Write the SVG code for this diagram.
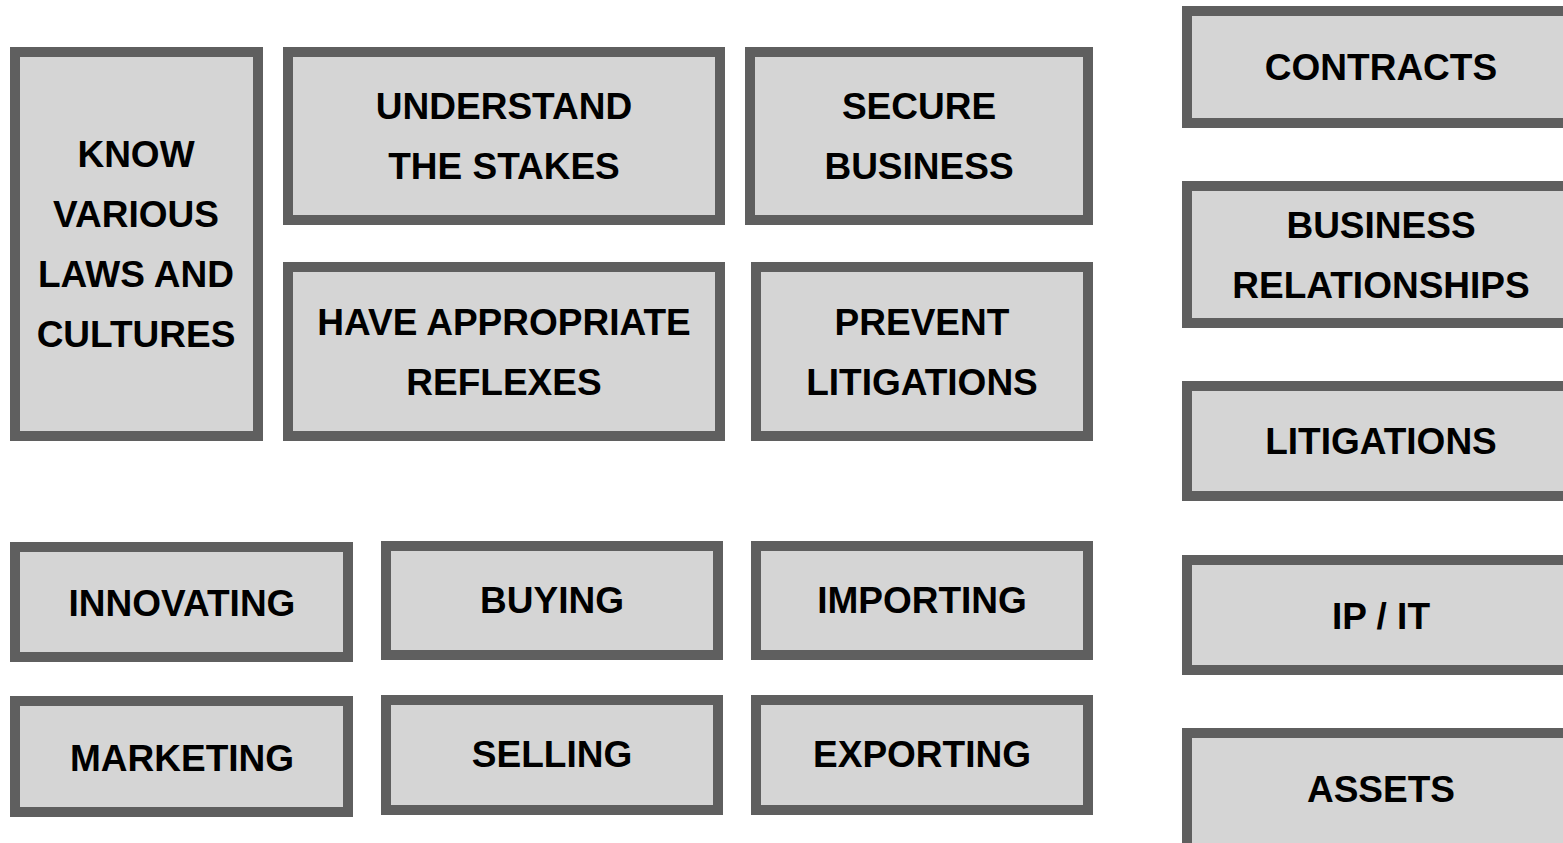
<svg xmlns="http://www.w3.org/2000/svg" width="1563" height="843" viewBox="0 0 1563 843">
<style>
.b{fill:#d5d5d5;stroke:#5f5f5f;stroke-width:10}
.t{font-family:"Liberation Sans",Arial,sans-serif;font-weight:bold;font-size:37px;fill:#000;text-anchor:middle}
</style>
<rect width="1563" height="843" fill="#fff"/>
<g id="know"><rect class="b" x="15" y="52" width="243" height="384"/><text class="t" x="136" y="167">KNOW</text><text class="t" x="136" y="227">VARIOUS</text><text class="t" x="136" y="287">LAWS AND</text><text class="t" x="136" y="347">CULTURES</text></g>
<g id="understand"><rect class="b" x="288" y="52" width="432" height="168"/><text class="t" x="504" y="119">UNDERSTAND</text><text class="t" x="504" y="179">THE STAKES</text></g>
<g id="secure"><rect class="b" x="750" y="52" width="338" height="168"/><text class="t" x="919" y="119">SECURE</text><text class="t" x="919" y="179">BUSINESS</text></g>
<g id="reflexes"><rect class="b" x="288" y="267" width="432" height="169"/><text class="t" x="504" y="335">HAVE APPROPRIATE</text><text class="t" x="504" y="395">REFLEXES</text></g>
<g id="prevent"><rect class="b" x="756" y="267" width="332" height="169"/><text class="t" x="922" y="335">PREVENT</text><text class="t" x="922" y="395">LITIGATIONS</text></g>
<g id="innovating"><rect class="b" x="15" y="547" width="333" height="110"/><text class="t" x="182" y="616">INNOVATING</text></g>
<g id="buying"><rect class="b" x="386" y="546" width="332" height="109"/><text class="t" x="552" y="613">BUYING</text></g>
<g id="importing"><rect class="b" x="756" y="546" width="332" height="109"/><text class="t" x="922" y="613">IMPORTING</text></g>
<g id="marketing"><rect class="b" x="15" y="701" width="333" height="111"/><text class="t" x="182" y="771">MARKETING</text></g>
<g id="selling"><rect class="b" x="386" y="700" width="332" height="110"/><text class="t" x="552" y="767">SELLING</text></g>
<g id="exporting"><rect class="b" x="756" y="700" width="332" height="110"/><text class="t" x="922" y="767">EXPORTING</text></g>
<g id="contracts"><rect class="b" x="1187" y="11" width="400" height="112"/><text class="t" x="1381" y="80">CONTRACTS</text></g>
<g id="relationships"><rect class="b" x="1187" y="186" width="400" height="137"/><text class="t" x="1381" y="238">BUSINESS</text><text class="t" x="1381" y="298">RELATIONSHIPS</text></g>
<g id="litigations"><rect class="b" x="1187" y="386" width="400" height="110"/><text class="t" x="1381" y="454">LITIGATIONS</text></g>
<g id="ipit"><rect class="b" x="1187" y="560" width="400" height="110"/><text class="t" x="1381" y="629">IP / IT</text></g>
<g id="assets"><rect class="b" x="1187" y="733" width="400" height="120"/><text class="t" x="1381" y="802">ASSETS</text></g>
<g id="connectors"/>
</svg>
